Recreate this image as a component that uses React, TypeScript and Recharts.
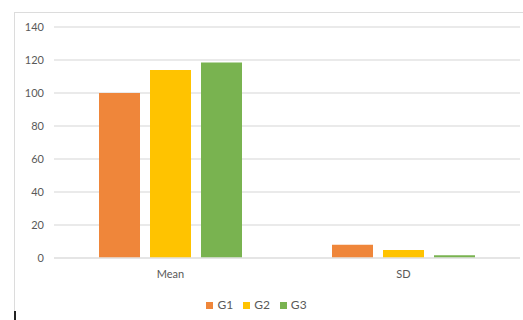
import React from 'react';
import { BarChart, Bar, XAxis, YAxis, CartesianGrid, Legend } from 'recharts';

const categories = ['Mean', 'SD'];
const g1Values = [100, 8];
const g2Values = [114, 4.8];
const g3Values = [118.5, 1.6];
const yTicks = [0, 20, 40, 60, 80, 100, 120, 140];

const data = categories.map((c, i) => ({ name: c, G1: g1Values[i], G2: g2Values[i], G3: g3Values[i] }));

const FONT = 'Lato, "Open Sans", sans-serif';
const TEXT = '#595959';
const GRID = '#e3e3e3';

export default function App() {
  return (
    <div style={{ position: 'absolute', left: 0, top: 0, width: 523, height: 320, background: '#fff', overflow: 'hidden', fontFamily: FONT }}>
      <div style={{ position: 'absolute', left: 14, top: 12, width: 520, height: 330, borderLeft: '1.5px solid #dcdcdc', borderTop: '1.5px solid #dcdcdc' }} />
      <div style={{ position: 'absolute', left: 14, top: 311, width: 2, height: 9, background: '#222' }} />
      <div style={{ position: 'absolute', left: 0, top: 0 }}>
        <BarChart
          width={523}
          height={320}
          data={data}
          margin={{ top: 27, right: 3, bottom: 32, left: 14 }}
          barCategoryGap={45}
          barGap={10}
        >
          <CartesianGrid vertical={false} stroke={GRID} strokeWidth={1.5} />
          <XAxis
            dataKey="name"
            height={30}
            axisLine={{ stroke: GRID, strokeWidth: 1.5 }}
            tickLine={false}
            tickSize={0}
            tickMargin={12}
            tick={{ fill: TEXT, fontSize: 11, fontFamily: FONT }}
          />
          <YAxis
            width={40}
            domain={[0, 140]}
            ticks={yTicks}
            axisLine={false}
            tickLine={false}
            tickSize={0}
            tickMargin={10}
            tick={{ fill: TEXT, fontSize: 11, fontFamily: FONT }}
          />
          <Legend
            verticalAlign="middle"
            align="center"
            iconType="square"
            iconSize={7}
            wrapperStyle={{ top: 297, left: 0, width: 523, fontSize: 12, fontFamily: FONT }}
            formatter={(v: string) => <span style={{ color: TEXT }}>{v}</span>}
          />
          <Bar dataKey="G1" fill="#EF863A" isAnimationActive={false} />
          <Bar dataKey="G2" fill="#FFC300" isAnimationActive={false} />
          <Bar dataKey="G3" fill="#79B350" isAnimationActive={false} />
        </BarChart>
      </div>
    </div>
  );
}
